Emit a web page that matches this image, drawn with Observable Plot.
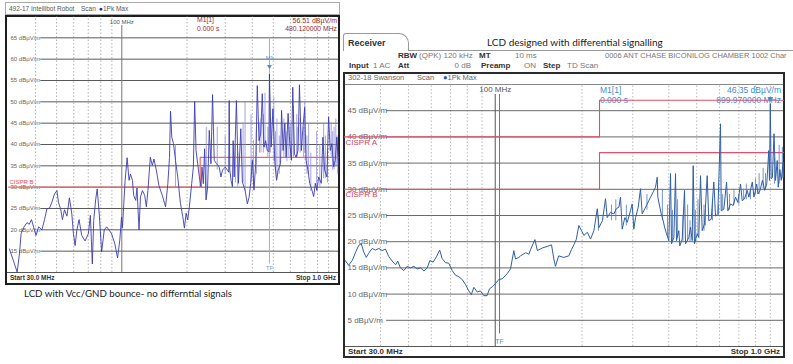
<!DOCTYPE html>
<html><head><meta charset="utf-8">
<script src="https://cdn.jsdelivr.net/npm/d3@7"></script>
<script src="https://cdn.jsdelivr.net/npm/@observablehq/plot@0.6"></script>
<style>
html,body{margin:0;padding:0;background:#fff;}
body{width:793px;height:364px;position:relative;overflow:hidden;font-family:"Liberation Sans",Arial,sans-serif;}
.abs{position:absolute;white-space:nowrap;line-height:1;}
.box{position:absolute;box-sizing:border-box;}
</style></head><body>
<script>
// ---------- DATA ----------
const gridMHz = [40,50,60,70,80,90,200,300,400,500,600,700,800,900];
const ticksL = [65,60,55,50,45,40,35,30,25,20,15];
const ticksR = [45,40,35,30,25,20,15,10,5];
const limitFreq = [30,230,230,1000];
const limitA = [40,40,47,47];
const limitB = [30,30,37,37];

// Left: LCD with Vcc/GND bounce (MHz, dBµV/m)
const freqL = [
30.3,31.2,32.9,33.7,34.3,35.3,36.5,37.4,38.3,39.2,
40.2,41.3,42.8,44.0,45.1,46.4,47.6,48.9,50.2,51.0,
52.3,53.2,54.4,55.8,57.3,58.8,59.8,60.9,62.0,63.5,
65.3,67.7,70.1,71.6,73.1,74.2,75.8,77.0,78.7,80.7,
83.0,85.1,87.2,89.7,92.9,95.6,97.9,99.7,100.7,102.1,
103.6,105.8,108.0,109.6,112.0,113.5,116.0,117.5,120.1,121.9,
124.5,127.5,129.8,132.0,135.4,138.3,140.7,144.3,148.3,153.7,
159.2,163.1,166.0,167.8,170.1,173.2,176.9,181.2,186.5,191.1,
194.5,198.1,201.5,205.0,210.1,213.9,216.9,220.1,223.9,228.0,
232.1,234.5,237.8,241.1,244.7,248.8,253.3,257.9,262.3,267.1,
273.6,281.5,286.7,291.5,300.0,307.4,311.5,313.0,315.0,319.5,
324.0,326.5,330.0,338.0,345.2,354.1,360.1,370.5,379.6,386.5,
393.5,400.3,407.4,414.9,422.0,429.6,437.4,444.9,452.7,461.1,
469.0,477.3,480.12,489.2,498.0,508.7,517.8,526.7,540.2,546.0,
555.3,565.4,573.2,585.4,596.0,606.8,615.2,626.3,637.0,650.6,
660.3,674.4,683.7,698.3,708.0,723.0,736.2,754.3,768.0,781.9,
795.2,810.0,833.0,847.3,862.6,883.8,900.0,916.2,931.9,949.0,
965.9,982.3,1000];
const levelL = [
15.5,13.6,10.1,14.4,19.1,20.6,21.7,21.3,22.4,20.6,
18.7,20.7,20.0,22.4,24.9,25.1,26.5,28.4,29.2,26.5,
24.7,22.4,24.7,23.2,27.5,23.7,19.1,16.3,19.9,22.4,
18.7,17.4,19.1,23.4,12.0,22.2,27.2,29.6,23.7,14.8,
20.0,20.7,20.0,19.1,16.7,13.4,17.6,23.0,20.5,26.0,
31.6,36.9,31.6,33.1,31.6,28.0,26.9,29.8,20.0,27.7,
29.2,28.1,25.4,29.2,37.0,35.1,36.6,34.0,30.4,28.1,
25.4,30.8,37.0,47.8,41.7,40.2,36.3,32.4,26.2,23.1,
20.4,23.9,22.3,25.4,30.8,34.7,50.1,38.6,35.5,32.4,
30.1,34.7,30.8,39.0,27.0,29.8,43.3,35.5,51.7,36.3,
35.5,34.7,32.4,34.0,34.7,34.0,33.5,50.3,34.0,31.5,
30.1,40.9,32.4,50.3,30.9,43.7,31.2,29.3,26.1,27.6,
30.9,36.3,29.3,35.5,53.8,40.9,42.5,51.9,39.4,40.9,
38.6,38.3,56.51,39.4,48.4,35.5,31.6,34.0,35.5,48.0,
38.6,45.0,37.0,47.3,40.2,36.3,53.4,37.8,37.0,38.6,
54.0,38.6,43.3,48.7,36.3,34.0,30.9,29.3,27.8,30.9,
29.3,32.4,30.9,41.7,34.0,32.4,46.5,38.6,40.2,34.8,
36.3,41.7,35.5];
const spikeFreqL = [176.9,245.4,275.7,300,335,343,362.8,370.5,394.8,405,418,432,438.8,450,457.8,472,485,503,512,519.7,533,560,578,590,601,620,641.7,645,666,690,698.3,715,728,745,792.7,820,854,870,890,925,940,954,972,984.8,992];
const spikeTopL  = [40,44,44,42,40,38,45,50,47,41,44,45,46,47,52,44,46,51,43,46,42,46,43,44,45,49,47,44,46,44,50,42,45,38,43,40,45,42,39,45,43,44,46,42,40];
const spikeBaseL = [30,28,34,33,31,30,31,29,31,30,33,38,38,38,39,37,38,36,34,32,33,37,36,37,37,37,37,37,38,37,38,33,33,29,29,30,32,32,31,37,34,34,35,35,33];

// Right: LCD with differential signalling (MHz, dBµV/m)
const freqR = [
30.2,31.0,31.9,32.8,33.6,34.3,35.0,35.7,36.4,37.4,
38.4,39.5,40.5,41.6,42.7,43.9,45.1,45.9,46.9,48.2,
49.5,50.8,52.2,53.6,55.1,56.6,58.1,59.3,60.9,62.5,
64.2,65.4,67.2,69.0,70.9,72.8,74.8,76.8,78.9,81.0,
82.6,84.3,86.6,88.9,91.3,93.7,95.5,97.7,100.2,102.9,
105.7,110.0,113.0,116.0,117.6,120.8,122.4,127.4,130.9,132.6,
137.3,140.0,145.6,151.4,156.8,159.7,161.8,166.0,172.9,180.0,
183.9,187.3,191.0,195.0,199.2,203.0,208.7,214.1,219.9,226.0,
229.0,235.5,241.3,244.6,251.1,258.0,263.0,268.6,272.0,275.7,
281.6,287.1,294.6,298.6,302.5,306.7,313.4,319.1,323.5,330.3,
336.6,345.7,353.3,359.8,364.7,366.5,372.4,376.6,382.6,386.6,
392.8,400.1,405.6,408.9,416.5,422.1,425.5,433.4,436.8,445.3,
453.5,457.2,469.4,475.8,482.3,486.1,491.2,501.9,508.4,515.4,
522.4,532.0,543.6,550.6,561.4,573.2,581.0,591.8,604.7,608.1,
620.9,634.6,641.2,655.0,669.2,681.7,694.3,709.5,719.2,732.6,
748.6,758.3,779.5,789.7,807.3,815.8,829.0,845.1,860.9,874.8,
889,894,899.97,906,915.3,927.1,938.3,951.1,958.7,971.1,
982.1,998,1000];
const levelR = [
16.4,15.5,16.4,18.0,19.3,19.6,18.0,17.0,17.8,18.7,
18.4,18.7,18.3,18.6,17.2,16.3,15.6,16.3,15.0,14.5,
15.3,15.0,15.3,14.8,15.0,14.4,15.0,16.4,16.1,17.1,
18.4,16.8,16.0,15.9,14.5,13.6,13.3,12.8,11.8,10.6,
9.9,11.3,10.4,10.6,9.7,9.7,11.0,11.4,12.0,12.8,
12.9,13.9,14.8,18.3,16.7,17.0,17.3,17.9,17.6,18.5,
20.4,18.3,18.8,19.1,19.4,16.7,15.3,17.3,17.0,17.3,
18.5,19.4,20.4,23.1,22.1,21.2,21.8,20.5,22.1,26.3,
22.7,24.0,28.2,24.6,25.6,25.3,26.3,26.6,28.5,22.4,
24.6,23.7,25.9,27.2,22.4,24.6,26.6,30.1,25.3,26.3,
27.2,28.5,29.5,30.4,32.3,28.5,26.6,25.3,24.0,22.8,
21.5,20.2,33.0,19.6,20.8,33.0,20.2,22.1,19.2,20.5,
29.8,19.6,20.8,22.8,20.2,34.5,19.6,21.5,20.8,32.6,
22.1,23.4,32.6,24.0,24.3,31.4,24.9,25.3,42.5,25.9,
26.2,31.4,25.9,27.2,26.9,28.5,27.5,31.0,27.8,28.2,
29.8,28.5,31.4,28.5,31.0,29.1,29.8,31.7,29.8,31.0,
37.4,31.7,46.35,32.0,32.3,40.6,31.7,35.5,30.4,33.8,
31.7,35.2,32.3];
const spikeFreqR = [228,253,262,285,336,380,396,412,429,448,465,474,495,505,530,536,567,595,615,650,673,700,727,743,768,800,823,850,866,931,966,991];
const spikeTopR  = [25,27,28,27,29,30,27,26,28,25,27,24,26,28,27,26,28,27,29,29,30,29,30,31,30,32,33,34,33,36,38.4,38];
const spikeBaseR = [22,24,24,23,26,24,21,20,21,20,20,20,20,21,22,23,24,25,26,26,27,27,28,28,28,29,29,30,30,31,31,32];

const markerL = {freq:480.12, level:56.51, label:"M1[1]", time:"0.000 s", value:"56.51 dBµV/m", where:"480.120000 MHz"};
const markerR = {freq:899.97, level:46.35, label:"M1[1]", time:"0.000 s", value:"46.35 dBµV/m", where:"899.970000 MHz"};
const tfFreqR = 103.5;

// ---------- LAYOUT HELPERS ----------
function box(x,y,w,h,css){const d=document.createElement("div");d.className="box";
  Object.assign(d.style,{left:x+"px",top:y+"px",width:w+"px",height:h+"px"},css||{});document.body.appendChild(d);return d;}
function txt(x,y,s,o){o=o||{};const d=document.createElement("div");d.className="abs";
  if(o.html) d.innerHTML=s; else d.textContent=s;
  Object.assign(d.style,{left:x+"px",top:y+"px",fontSize:(o.size||8)+"px",color:o.color||"#555",
    fontWeight:o.bold?"bold":"normal",fontFamily:o.font||"'Liberation Sans',Arial,sans-serif",
    transform:o.end?"translate(-100%,-50%)":"translateY(-50%)"});
  document.body.appendChild(d);return d;}

// ---------- LEFT PANEL ----------
box(5,2,335,13,{border:"1px solid #aaa"});
txt(9,9,"492-17 Intellibot Robot",{size:6.5});
txt(81,9,"Scan",{size:6.5});
txt(99,9,'<span style="color:#23239c">●</span>1Pk Max',{size:6.5,html:true});
box(5,15,335,270,{border:"2px solid #1e1e1e"});
box(7,272,331,1,{background:"#555"});
txt(10,278,"Start 30.0 MHz",{size:6.5,bold:true,color:"#333"});
txt(336,278,"Stop 1.0 GHz",{size:6.5,bold:true,color:"#333",end:true});
txt(197,20,markerL.label,{size:6.8,color:"#9b2a2a"});
txt(197,29,markerL.time,{size:6.8,color:"#9b2a2a"});
txt(337,20,markerL.value,{size:7,color:"#9b2a2a",end:true});
txt(337,29,markerL.where,{size:6.8,color:"#9b2a2a",end:true});
txt(24,294,"LCD with Vcc/GND bounce- no differntial signals",{size:9.7,color:"#222",font:"Lato, sans-serif"});

const plotL = Plot.plot({
  width:330, height:256, margin:0,
  x:{type:"log", domain:[30,1000], axis:null},
  y:{domain:[10,70], axis:null},
  style:{background:"transparent", overflow:"visible", fontFamily:"Liberation Sans, Arial, sans-serif"},
  marks:[
    Plot.ruleX(gridMHz,{x:d=>d, y1:10, y2:70, stroke:"#a0a0a0", strokeWidth:0.8, strokeDasharray:"1.5,2"}),
    Plot.ruleY(ticksL,{y:d=>d, x1:42.3, x2:1000, stroke:"#5a5a5a", strokeWidth:1}),
    Plot.text(ticksL,{x:30, y:d=>d, text:d=>d+" dBµV/m", textAnchor:"start", dx:2, fontSize:6, fill:"#666"}),
    Plot.ruleX([100],{x:d=>d, y1:10, y2:67.9, stroke:"#777", strokeWidth:1}),
    Plot.text(["100 MHz"],{x:100, y:68.8, text:d=>d, fontSize:6, fill:"#555"}),
    Plot.ruleX([markerL.freq],{x:d=>d, y1:12, y2:65, stroke:"#9fb0cc", strokeWidth:1}),
    Plot.text(["TF"],{x:markerL.freq, y:11.1, text:d=>d, fontSize:5.5, fill:"#7890b8"}),
    Plot.line(limitFreq,{x:limitFreq, y:limitB, stroke:"#f06868", strokeWidth:1.2}),
    Plot.text(["CISPR B"],{x:30, y:31.3, text:d=>d, textAnchor:"start", dx:1, fontSize:6, fill:"#f04848"}),
    Plot.ruleX(spikeFreqL,{x:spikeFreqL, y1:spikeBaseL, y2:spikeTopL, stroke:"#8d8de0", strokeWidth:0.8}),
    Plot.line(freqL,{x:freqL, y:levelL, stroke:"#3b3bb0", strokeWidth:0.9}),
    Plot.dot([markerL],{x:"freq", y:58.3, symbol:"triangle", r:1.8, fill:"#4a90d0", rotate:180}),
    Plot.text(["M1"],{x:markerL.freq, y:60.3, text:d=>d, fontSize:5.5, fill:"#4a90d0"})
  ]
});
const holderL = box(8,16,330,256,{}); holderL.appendChild(plotL);

// ---------- RIGHT PANEL ----------
box(343,33,66,18,{border:"1px solid #999", borderBottom:"none", borderRadius:"3px 10px 0 0", background:"#fff"});
txt(348,43,"Receiver",{size:9,bold:true,color:"#333"});
box(408,50,385,1,{background:"#999"});
txt(487,42,"LCD designed with differential signalling",{size:10,color:"#222",font:"Lato, sans-serif"});
txt(398,56,"RBW",{size:8,bold:true,color:"#333"});
txt(419,56,"(QPK) 120 kHz",{size:8,color:"#777"});
txt(479,56,"MT",{size:8,bold:true,color:"#333"});
txt(515,56,"10 ms",{size:8,color:"#777"});
txt(605,56,"0006 ANT CHASE BICONILOG CHAMBER 1002 Char",{size:7.5,color:"#777"});
txt(349,66,"Input",{size:8,bold:true,color:"#333"});
txt(373,66,"1 AC",{size:8,color:"#777"});
txt(398,66,"Att",{size:8,bold:true,color:"#333"});
txt(471,66,"0 dB",{size:8,color:"#777",end:true});
txt(481,66,"Preamp",{size:8,bold:true,color:"#333"});
txt(524,66,"ON",{size:8,color:"#777"});
txt(543,66,"Step",{size:8,bold:true,color:"#333"});
txt(567,66,"TD Scan",{size:8,color:"#777"});
box(343,72,442,286,{border:"2px solid #2a2a2a"});
txt(348,78,"302-18 Swanson",{size:7.5,color:"#666"});
txt(417,78,"Scan",{size:7.5,color:"#666"});
txt(443,78,'<span style="color:#2a4fc8">●</span>1Pk Max',{size:7.5,color:"#666",html:true});
box(345,84,438,1,{background:"#888"});
box(345,346,438,1,{background:"#555"});
txt(348,352,"Start 30.0 MHz",{size:8,bold:true,color:"#333"});
txt(780,352,"Stop 1.0 GHz",{size:8,bold:true,color:"#333",end:true});
txt(600,90,markerR.label,{size:8.5,color:"#3a8ed8"});
txt(600,100,markerR.time,{size:8.5,color:"#3a8ed8"});
txt(781,90,markerR.value,{size:8.5,color:"#3a8ed8",end:true});
txt(781,100,markerR.where,{size:8.5,color:"#3a8ed8",end:true});

const plotR = Plot.plot({
  width:439, height:262, margin:0,
  x:{type:"log", domain:[30,1000], axis:null},
  y:{domain:[0,50], axis:null},
  style:{background:"transparent", overflow:"visible", fontFamily:"Liberation Sans, Arial, sans-serif"},
  marks:[
    Plot.ruleX(gridMHz,{x:d=>d, y1:0, y2:50, stroke:"#a8a8a8", strokeWidth:0.8, strokeDasharray:"1.5,2"}),
    Plot.ruleY(ticksR,{y:d=>d, x1:42, x2:1000, stroke:"#6a6a6a", strokeWidth:1}),
    Plot.text(ticksR,{x:30, y:d=>d, text:d=>d+" dBµV/m", textAnchor:"start", dx:3, fontSize:8, fill:"#666"}),
    Plot.ruleX([100],{x:d=>d, y1:0, y2:48.1, stroke:"#555", strokeWidth:1}),
    Plot.text(["100 MHz"],{x:100, y:49, text:d=>d, fontSize:8, fill:"#555"}),
    Plot.ruleX([tfFreqR],{x:d=>d, y1:2.4, y2:48.1, stroke:"#3a8a9c", strokeWidth:1}),
    Plot.text(["TF"],{x:tfFreqR, y:0.9, text:d=>d, fontSize:7, fill:"#4a9ab4"}),
    Plot.line(limitFreq,{x:limitFreq, y:limitA, stroke:"#e0506c", strokeWidth:1.1}),
    Plot.line(limitFreq,{x:limitFreq, y:limitB, stroke:"#e0506c", strokeWidth:1.1}),
    Plot.text(["CISPR A"],{x:30, y:38.9, text:d=>d, textAnchor:"start", dx:1, fontSize:8, fill:"#d8405e"}),
    Plot.text(["CISPR B"],{x:30, y:29.0, text:d=>d, textAnchor:"start", dx:1, fontSize:8, fill:"#d8405e"}),
    Plot.ruleX(spikeFreqR,{x:spikeFreqR, y1:spikeBaseR, y2:spikeTopR, stroke:"#4f78c0", strokeWidth:0.8}),
    Plot.line(freqR,{x:freqR, y:levelR, stroke:"#2f5ea8", strokeWidth:1}),
    Plot.dot([markerR],{x:"freq", y:47.3, symbol:"triangle", r:2.2, fill:"#3a8ed8", rotate:180})
  ]
});
const holderR = box(344,84,439,262,{}); holderR.appendChild(plotR);
</script>
</body></html>
